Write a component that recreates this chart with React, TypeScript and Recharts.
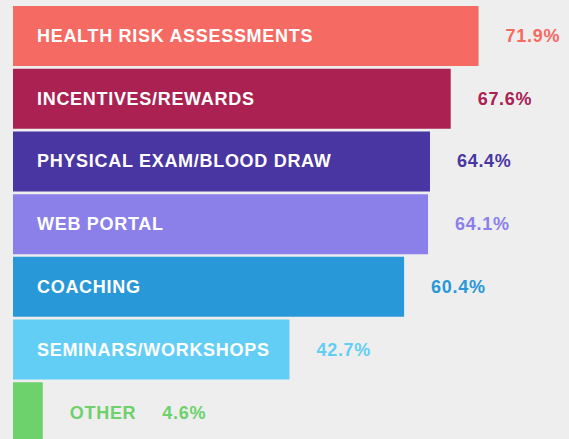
// Wellness program components – horizontal bar chart

import { BarChart, Bar, XAxis, YAxis, Cell, LabelList } from 'recharts';

// Data
const categories = [
  'HEALTH RISK ASSESSMENTS',
  'INCENTIVES/REWARDS',
  'PHYSICAL EXAM/BLOOD DRAW',
  'WEB PORTAL',
  'COACHING',
  'SEMINARS/WORKSHOPS',
  'OTHER',
];
const values = [71.9, 67.6, 64.4, 64.1, 60.4, 42.7, 4.6];
const colors = ['#f56a62', '#aa2152', '#4a36a2', '#8b80ea', '#2898d8', '#62cef5', '#6dd16c'];

const chartData = categories.map((name, i) => ({ name, value: values[i], color: colors[i] }));

const FONT = '"Liberation Sans", Arial, Helvetica, sans-serif';

// Label: category inside the bar, value to the right of it.
// When the bar is too short the category goes outside too.
const BarLabel = (props: any) => {
  const { x, y, width, height, index } = props;
  const d = chartData[index];
  const cy = y + height / 2;
  const end = x + width;
  const common = {
    fontFamily: FONT,
    fontWeight: 700,
    fontSize: 18,
    letterSpacing: 0.7,
    dominantBaseline: 'central' as const,
  };

  if (width < 100) {
    return (
      <text x={end + 27} y={cy + 1} fill={d.color} {...common}>
        <tspan>{d.name}</tspan>
        <tspan dx={26}>{d.value.toFixed(1)}%</tspan>
      </text>
    );
  }

  return (
    <g>
      <text x={x + 24} y={cy} fill="#ffffff" {...common}>
        {d.name}
      </text>
      <text x={end + 27} y={cy} fill={d.color} {...common}>
        {d.value.toFixed(1)}%
      </text>
    </g>
  );
};

export default function App() {
  return (
    <div
      style={{
        position: 'fixed',
        top: 0,
        left: 0,
        width: 569,
        height: 439,
        overflow: 'hidden',
        background: '#eeeeee',
      }}
    >
      <BarChart
        width={569}
        height={444}
        data={chartData}
        layout="vertical"
        margin={{ top: 5, right: 38, left: 13, bottom: 0 }}
      >
        <XAxis type="number" domain={[0, 80]} hide />
        <YAxis type="category" dataKey="name" hide />
        <Bar dataKey="value" barSize={60} isAnimationActive={false}>
          {chartData.map((d) => (
            <Cell key={d.name} fill={d.color} />
          ))}
          <LabelList dataKey="value" content={<BarLabel />} />
        </Bar>
      </BarChart>
    </div>
  );
}
